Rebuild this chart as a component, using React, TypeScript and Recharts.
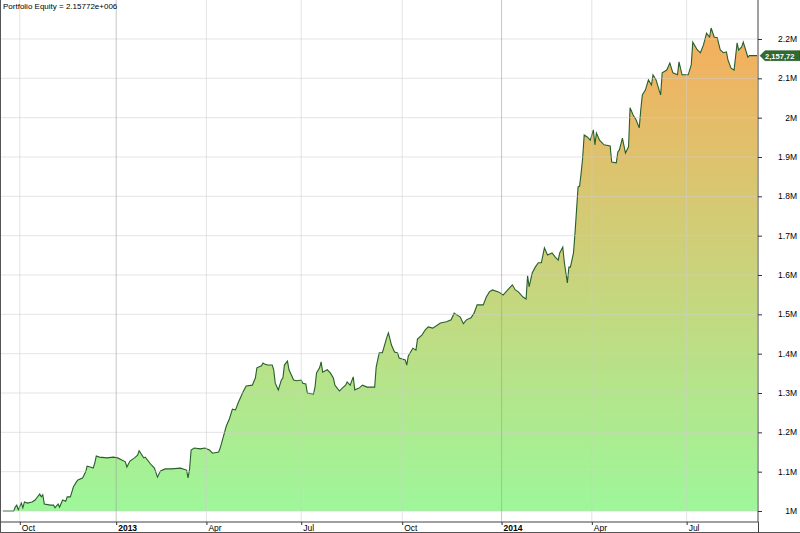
import React from 'react';
import { AreaChart, Area, XAxis, YAxis, ReferenceLine, ReferenceDot } from 'recharts';

// trading-day index (0 = mid Sep 2012)
const days = [
  0, 7, 8, 9, 10, 12, 13, 14, 16, 19,
  21, 22, 24, 25, 26, 27, 31, 33, 34, 36,
  37, 39, 41, 42, 44, 45, 46, 48, 49, 52,
  54, 55, 57, 59, 60, 61, 63, 68, 72, 75,
  80, 81, 83, 86, 88, 89, 92, 93, 97, 99,
  101, 103, 106, 110, 116, 120, 121, 122, 123, 125,
  129, 132, 135, 137, 141, 142, 144, 146, 148, 150,
  152, 154, 157, 159, 163, 165, 166, 169, 170, 171,
  173, 176, 177, 178, 180, 182, 183, 184, 186, 187,
  190, 192, 195, 196, 198, 199, 203, 204, 205, 207,
  208, 209, 212, 214, 216, 217, 218, 220, 222, 224,
  225, 227, 229, 230, 233, 235, 238, 240, 243, 244,
  246, 248, 251, 252, 254, 256, 258, 259, 263, 264,
  265, 268, 270, 271, 274, 276, 278, 281, 286, 290,
  293, 295, 297, 299, 301, 303, 306, 308, 310, 314,
  316, 318, 320, 324, 327, 330, 333, 335, 337, 340,
  342, 343, 344, 346, 348, 350, 352, 354, 356, 359,
  361, 363, 364, 366, 367, 369, 370, 371, 373, 374,
  375, 376, 377, 378, 379, 380, 382, 384, 386, 387,
  388, 390, 393, 397, 398, 401, 402, 403, 405, 407,
  409, 410, 412, 414, 416, 417, 418, 420, 422, 424,
  425, 427, 429, 430, 431, 434, 436, 438, 441, 442,
  444, 448, 450, 451, 454, 456, 458, 460, 462, 463,
  465, 467, 469, 471, 473, 474, 476, 478, 480, 481,
  483, 484, 486, 487, 488, 493,
];

const equity = [
  1000000, 1000000, 1010000, 1015000, 1003000, 1020000, 1008000, 1023000, 1020000, 1023000,
  1028000, 1033000, 1043000, 1036000, 1041000, 1018000, 1015000, 1015000, 1008000, 1018000,
  1010000, 1028000, 1025000, 1036000, 1036000, 1048000, 1061000, 1074000, 1079000, 1084000,
  1099000, 1114000, 1112000, 1109000, 1122000, 1140000, 1137000, 1135000, 1137000, 1135000,
  1125000, 1112000, 1127000, 1135000, 1142000, 1153000, 1135000, 1137000, 1117000, 1109000,
  1086000, 1102000, 1107000, 1107000, 1109000, 1104000, 1084000, 1107000, 1155000, 1160000,
  1158000, 1160000, 1155000, 1147000, 1150000, 1160000, 1188000, 1216000, 1234000, 1259000,
  1257000, 1277000, 1303000, 1318000, 1320000, 1338000, 1364000, 1369000, 1376000, 1374000,
  1371000, 1371000, 1359000, 1325000, 1308000, 1333000, 1338000, 1371000, 1381000, 1359000,
  1333000, 1331000, 1333000, 1325000, 1323000, 1300000, 1297000, 1315000, 1351000, 1364000,
  1379000, 1353000, 1359000, 1351000, 1338000, 1320000, 1315000, 1305000, 1313000, 1320000,
  1328000, 1320000, 1341000, 1308000, 1313000, 1320000, 1315000, 1315000, 1315000, 1366000,
  1402000, 1402000, 1442000, 1453000, 1422000, 1404000, 1402000, 1389000, 1384000, 1371000,
  1394000, 1414000, 1409000, 1437000, 1448000, 1460000, 1468000, 1465000, 1478000, 1481000,
  1486000, 1503000, 1498000, 1493000, 1476000, 1486000, 1491000, 1503000, 1524000, 1524000,
  1544000, 1557000, 1562000, 1557000, 1549000, 1562000, 1575000, 1562000, 1557000, 1544000,
  1539000, 1598000, 1570000, 1605000, 1620000, 1631000, 1631000, 1669000, 1651000, 1656000,
  1646000, 1638000, 1656000, 1671000, 1633000, 1580000, 1620000, 1620000, 1656000, 1707000,
  1765000, 1824000, 1826000, 1859000, 1898000, 1956000, 1951000, 1943000, 1969000, 1931000,
  1961000, 1943000, 1931000, 1928000, 1887000, 1885000, 1913000, 1918000, 1948000, 1910000,
  1926000, 2025000, 2007000, 1994000, 1974000, 2020000, 2058000, 2070000, 2096000, 2083000,
  2109000, 2096000, 2070000, 2058000, 2114000, 2121000, 2139000, 2114000, 2109000, 2142000,
  2109000, 2109000, 2134000, 2192000, 2172000, 2165000, 2185000, 2215000, 2205000, 2228000,
  2205000, 2203000, 2172000, 2165000, 2167000, 2147000, 2126000, 2121000, 2190000, 2172000,
  2180000, 2192000, 2167000, 2154000, 2158000, 2157720,
];

const tickDays = [11, 74, 133, 195, 261, 326, 385, 447];
const tickLabels = ['Oct', '2013', 'Apr', 'Jul', 'Oct', '2014', 'Apr', 'Jul'];
const yTicks = [1000000, 1100000, 1200000, 1300000, 1400000, 1500000, 1600000, 1700000, 1800000, 1900000, 2000000, 2100000, 2200000];
const titleText = 'Portfolio Equity = 2.15772e+006';
const lastLabel = '2,157,72';

const data = days.map((d, i) => ({ day: d, equity: equity[i] }));
const lastPoint = data[data.length - 1];

const FONT = '"Liberation Sans", Arial, sans-serif';

const fmtM = (v: number) => `${+(v / 1e6).toFixed(1)}M`;

function XTick(props: any) {
  const { x, y, payload } = props;
  const idx = tickDays.indexOf(payload.value);
  const label = tickLabels[idx] ?? '';
  const bold = /^\d{4}$/.test(label);
  return (
    <g>
      <line x1={x + 0.5} x2={x + 0.5} y1={y} y2={y + 3} stroke="#333" />
      <text x={x + 2} y={y + 9} fontSize={8.5} fontWeight={bold ? 'bold' : 'normal'} fontFamily={FONT} fill="#000" textAnchor="start">
        {label}
      </text>
    </g>
  );
}

function YTick(props: any) {
  const { x, y, payload } = props;
  return (
    <g>
      <line x1={x} x2={x + 4} y1={y + 0.5} y2={y + 0.5} stroke="#333" />
      <text x={x + 39} y={y + 3} fontSize={8.5} fontFamily={FONT} fill="#000" textAnchor="end">
        {fmtM(payload.value)}
      </text>
    </g>
  );
}

function PriceTag(props: any) {
  const { cx, cy } = props;
  if (cx == null || cy == null) return null;
  const tip = cx + 3;
  const pts = `${tip},${cy} ${tip + 5},${cy - 5} 800,${cy - 5} 800,${cy + 5} ${tip + 5},${cy + 5}`;
  return (
    <g>
      <polygon points={pts} fill="#2f6a2f" stroke="#1f4f1f" strokeWidth={0.5} />
      <text x={tip + 5} y={cy + 3} fontSize={7.6} fontWeight="bold" fontFamily={FONT} fill="#fff">
        {lastLabel}
      </text>
    </g>
  );
}

export default function App() {
  return (
    <div style={{ position: 'absolute', left: 0, top: 0, width: 800, height: 533, background: '#fff', overflow: 'hidden' }}>
      <AreaChart width={800} height={533} data={data} margin={{ top: 0, right: 0, bottom: 0, left: 1 }}>
        <defs>
          <linearGradient id="eqFill" x1="0" y1="0" x2="0" y2="1">
            <stop offset="0%" stopColor="#f6ae5c" />
            <stop offset="100%" stopColor="#9ef79a" />
          </linearGradient>
        </defs>
        <XAxis
          dataKey="day"
          type="number"
          domain={[-1.31, 493.65]}
          allowDataOverflow
          ticks={tickDays}
          interval={0}
          height={11}
          tickSize={0}
          tickMargin={0}
          tickLine={false}
          tick={XTick}
          axisLine={{ stroke: '#404040' }}
        />
        <YAxis
          orientation="right"
          type="number"
          domain={[972030, 2299150]}
          allowDataOverflow
          ticks={yTicks}
          interval={0}
          width={42}
          tickSize={0}
          tickMargin={0}
          tickLine={false}
          tick={YTick}
          axisLine={{ stroke: '#404040' }}
        />
        <Area
          type="linear"
          dataKey="equity"
          baseValue={1000000}
          stroke="#285e2c"
          strokeWidth={1.1}
          fill="url(#eqFill)"
          fillOpacity={1}
          dot={false}
          activeDot={false}
          isAnimationActive={false}
        />
        {yTicks.map((v) => (
          <ReferenceLine key={`h${v}`} y={v} stroke="rgba(205,205,205,0.55)" strokeWidth={1} />
        ))}
        {tickDays.map((d, i) => (
          <ReferenceLine
            key={`v${d}`}
            x={d}
            stroke={/^\d{4}$/.test(tickLabels[i]) ? 'rgba(160,160,160,0.6)' : 'rgba(205,205,205,0.55)'}
            strokeWidth={1}
          />
        ))}
        <ReferenceDot x={lastPoint.day} y={lastPoint.equity} ifOverflow="visible" shape={PriceTag} />
      </AreaChart>
      <svg width={800} height={533} style={{ position: 'absolute', left: 0, top: 0, pointerEvents: 'none' }}>
        <line x1={0.5} x2={0.5} y1={0} y2={533} stroke="#555" />
        <line x1={0} x2={800} y1={532.5} y2={532.5} stroke="#555" />
        <line x1={758.5} x2={758.5} y1={522} y2={533} stroke="#404040" />
        <text x={3} y={8.5} fontSize={8} fontFamily={FONT} fill="#000">
          {titleText}
        </text>
      </svg>
    </div>
  );
}
